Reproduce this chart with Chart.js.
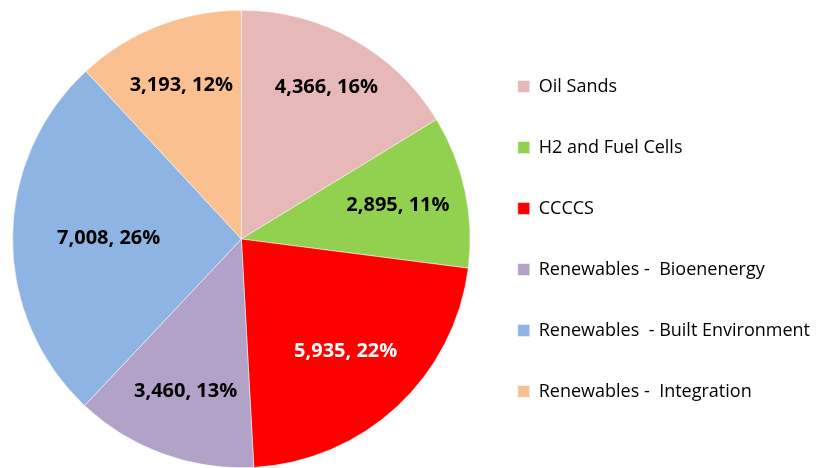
<!DOCTYPE html>
<html lang="en">
<head>
  <meta charset="UTF-8">
  <title>Funding by area</title>
  <script src="https://cdn.jsdelivr.net/npm/chart.js"></script>
  <style>
    html, body {
      margin: 0;
      background: white;
    }
    #wrap {
      width: 816px;
      height: 468px;
    }
  </style>
</head>
<body>
  <div id="wrap">
    <canvas id="pie"></canvas>
  </div>

  <script>
    const categories = [
      "Oil Sands",
      "H2 and Fuel Cells",
      "CCCCS",
      "Renewables -  Bioenenergy",
      "Renewables  - Built Environment",
      "Renewables -  Integration"
    ];
    const amounts = [4366, 2895, 5935, 3460, 7008, 3193];
    const percents = [16, 11, 22, 13, 26, 12];
    const sliceColors = ["#E6B9B8", "#92D050", "#FF0000", "#B3A2C7", "#8EB4E3", "#FAC090"];
    const labelColors = ["#000", "#000", "#fff", "#000", "#000", "#000"];

    const fontFamily = "'Open Sans', sans-serif";
    // how far out along the radius each slice label sits (Excel "best fit")
    const labelRadius = [0.76, 0.70, 0.67, 0.71, 0.58, 0.72];

    // value labels drawn inside each slice
    const sliceLabels = {
      id: "sliceLabels",
      afterDatasetsDraw(chart) {
        const ctx = chart.ctx;
        const meta = chart.getDatasetMeta(0);
        ctx.save();
        ctx.font = "bold 20px " + fontFamily;
        ctx.textAlign = "center";
        ctx.textBaseline = "middle";
        meta.data.forEach((arc, i) => {
          const mid = (arc.startAngle + arc.endAngle) / 2;
          const r = arc.outerRadius * labelRadius[i];
          const x = arc.x + Math.cos(mid) * r;
          const y = arc.y + Math.sin(mid) * r;
          ctx.fillStyle = labelColors[i];
          ctx.fillText(amounts[i].toLocaleString("en-US") + ", " + percents[i] + "%", x, y);
        });
        ctx.restore();
      }
    };

    new Chart(document.getElementById("pie"), {
      type: "pie",
      data: {
        labels: categories,
        datasets: [{
          data: amounts,
          backgroundColor: sliceColors,
          borderColor: "#ffffff",
          borderWidth: 0.5
        }]
      },
      options: {
        animation: false,
        responsive: true,
        maintainAspectRatio: false,
        layout: {
          padding: { top: 10, right: -4, bottom: 0, left: 8 }
        },
        plugins: {
          legend: {
            position: "right",
            align: "center",
            labels: {
              boxWidth: 12,
              boxHeight: 12,
              padding: 43,
              color: "#000",
              font: { family: fontFamily, size: 18 }
            }
          },
          tooltip: { enabled: false }
        }
      },
      plugins: [sliceLabels]
    });
  </script>
</body>
</html>
